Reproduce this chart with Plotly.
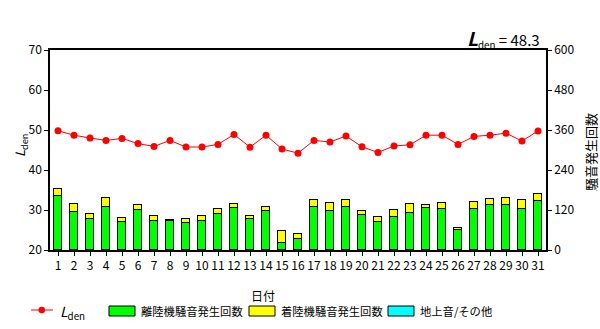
import plotly.graph_objects as go

# Daily values for one month
days = list(range(1, 32))
lden = [49.8, 48.7, 48.0, 47.4, 47.9, 46.6, 45.9, 47.4, 45.75, 45.75,
        46.4, 48.9, 45.7, 48.7, 45.25, 44.2, 47.4, 47.0, 48.5, 45.8,
        44.4, 46.0, 46.3, 48.7, 48.7, 46.4, 48.4, 48.7, 49.2, 47.25, 49.75]
takeoff = [161, 113, 92, 128, 83, 119, 86, 86, 80, 86,
           107, 125, 92, 116, 20, 32, 128, 116, 128, 104,
           83, 98, 110, 125, 122, 59, 122, 134, 134, 122, 146]
landing = [22, 24, 15, 27, 12, 15, 15, 3, 12, 15,
           15, 12, 9, 12, 36, 15, 21, 24, 21, 12,
           15, 21, 27, 9, 18, 6, 21, 18, 21, 27, 21]
ground = [0] * 31
lden_month = 48.3

FONT = "Noto Sans CJK JP"
GREEN, YELLOW, CYAN, RED = "#00ff00", "#ffff00", "#00ffff", "#ff0000"

# plot area in pixels
L, R, T, B = 50, 546, 50, 250


def px(x):
    return (x - L) / (R - L)


def py(y):
    return (B - y) / (B - T)


def text_at(x, y, text, size=12, xanchor="center", angle=0):
    return dict(x=px(x), y=py(y), xref="paper", yref="paper",
                xanchor=xanchor, yanchor="middle", showarrow=False,
                textangle=angle, text=text, borderpad=0,
                font=dict(family=FONT, size=size, color="black"))


fig = go.Figure()
for name, vals, col in [("離陸機騒音発生回数", takeoff, GREEN),
                        ("着陸機騒音発生回数", landing, YELLOW),
                        ("地上音/その他", ground, CYAN)]:
    fig.add_trace(go.Bar(x=days, y=vals, name=name, width=0.5,
                         marker=dict(color=col, line=dict(color="black", width=1)),
                         yaxis="y", showlegend=False))

fig.add_trace(go.Scatter(x=days, y=lden, mode="lines+markers", name="Lden",
                         line=dict(color=RED, width=1),
                         marker=dict(color=RED, size=7),
                         yaxis="y2", showlegend=False))

axis_common = dict(showline=True, linecolor="black", linewidth=1.5,
                   ticks="outside", ticklen=4, tickcolor="black",
                   showgrid=False, zeroline=False,
                   tickfont=dict(family=FONT, size=12, color="black"))

fig.update_layout(
    width=600, height=329,
    margin=dict(l=L, r=600 - R, t=T, b=329 - B),
    paper_bgcolor="white", plot_bgcolor="white",
    barmode="stack", bargap=0,
    font=dict(family=FONT, size=12, color="black"),
    xaxis=dict(range=[0.5, 31.5], tickmode="array", tickvals=days,
               ticktext=[str(d) for d in days], mirror=True, **axis_common),
    yaxis=dict(side="right", range=[0, 600], tickmode="array",
               tickvals=[0, 120, 240, 360, 480, 600], **axis_common),
    yaxis2=dict(side="left", overlaying="y", range=[20, 70], tickmode="array",
                tickvals=[20, 30, 40, 50, 60, 70], **axis_common),
)

ann = []
# monthly Lden
ann.append(text_at(541, 38,
                   "<span style='font-size:19px'><i><b>L</b></i></span><sub>den</sub>"
                   f"<span style='font-size:15px'> = {lden_month}</span>",
                   size=14, xanchor="right"))
# axis titles
ann.append(text_at(20, 146, "<i>L</i><sub>den</sub>", size=13, angle=-90))
ann.append(text_at(590, 152, "騒音発生回数", size=13, angle=-90))
ann.append(text_at(263, 295, "日付"))

# legend
shapes = []
ly = 310
shapes.append(dict(type="line", xref="paper", yref="paper",
                   x0=px(31), x1=px(53), y0=py(ly), y1=py(ly),
                   line=dict(color=RED, width=1)))
shapes.append(dict(type="circle", xref="paper", yref="paper",
                   x0=px(38.5), x1=px(45), y0=py(ly + 3.2), y1=py(ly - 3.2),
                   fillcolor=RED, line=dict(color=RED, width=0)))
ann.append(text_at(59, ly + 2, "<i>L</i><sub>den</sub>", size=14, xanchor="left"))
for x0, col, label in [(109, GREEN, "離陸機騒音発生回数"),
                       (249, YELLOW, "着陸機騒音発生回数"),
                       (388, CYAN, "地上音/その他")]:
    shapes.append(dict(type="rect", xref="paper", yref="paper",
                       x0=px(x0), x1=px(x0 + 26), y0=py(316), y1=py(306),
                       fillcolor=col, line=dict(color="black", width=1)))
    ann.append(text_at(x0 + 31, ly + 1, label, size=11.3, xanchor="left"))

fig.update_layout(annotations=ann, shapes=shapes)
fig.write_html("out.html")
